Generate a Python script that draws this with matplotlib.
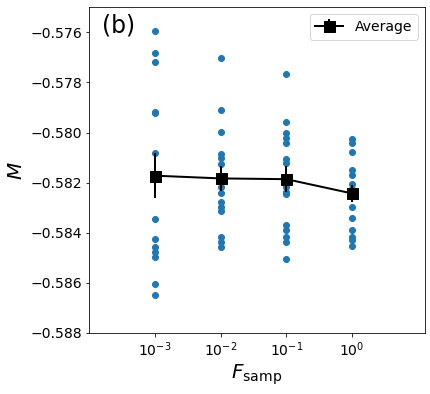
import numpy as np
import matplotlib
matplotlib.use("Agg")
import matplotlib.pyplot as plt

f_samp = [1e-3, 1e-2, 1e-1, 1e0]

m_1e3 = [-0.57594, -0.57684, -0.57717, -0.57917, -0.57922, -0.58083, -0.58346, -0.58424,
         -0.58456, -0.58476, -0.58496, -0.58605, -0.58650]
m_1e2 = [-0.57701, -0.57910, -0.57999, -0.58086, -0.58103, -0.58126, -0.58216, -0.58243,
         -0.58276, -0.58296, -0.58313, -0.58416, -0.58436, -0.58458]
m_1e1 = [-0.57766, -0.57959, -0.58001, -0.58023, -0.58043, -0.58106, -0.58123, -0.58216,
         -0.58236, -0.58246, -0.58370, -0.58390, -0.58416, -0.58436, -0.58505]
m_1e0 = [-0.58027, -0.58043, -0.58079, -0.58150, -0.58170, -0.58206, -0.58227, -0.58296,
         -0.58339, -0.58390, -0.58416, -0.58429, -0.58452]

avg = [-0.58172, -0.58183, -0.58186, -0.58243]
err = [0.00090, 0.00050, 0.00053, 0.00033]

fig = plt.figure(figsize=(430/72, 394/72), dpi=72)
ax = fig.add_axes([89/430, 1 - 333/394, (424.5-89)/430, (333-7.3)/394])

for x, vals in zip(f_samp, [m_1e3, m_1e2, m_1e1, m_1e0]):
    ax.plot([x]*len(vals), vals, 'o', color='#1f77b4', markersize=6)

ax.errorbar(f_samp, avg, yerr=err, color='black', marker='s', markersize=11,
            linewidth=2, elinewidth=2, label='Average')

ax.set_xscale('log')
ax.set_xlim(1e-4, 10**1.1)
ax.set_ylim(-0.588, -0.575)
ax.set_xticks(f_samp)
ax.minorticks_off()
ax.set_yticks([-0.588, -0.586, -0.584, -0.582, -0.580, -0.578, -0.576])
ax.tick_params(labelsize=14)
ax.set_xlabel(r'$F_{\mathrm{samp}}$', fontsize=20)
ax.set_ylabel(r'$M$', fontsize=20)
ax.text(0.038, 0.98, '(b)', transform=ax.transAxes, fontsize=23.5, va='top', ha='left')
ax.legend(loc='upper right', fontsize=14)

fig.savefig('out.png', dpi=72)
